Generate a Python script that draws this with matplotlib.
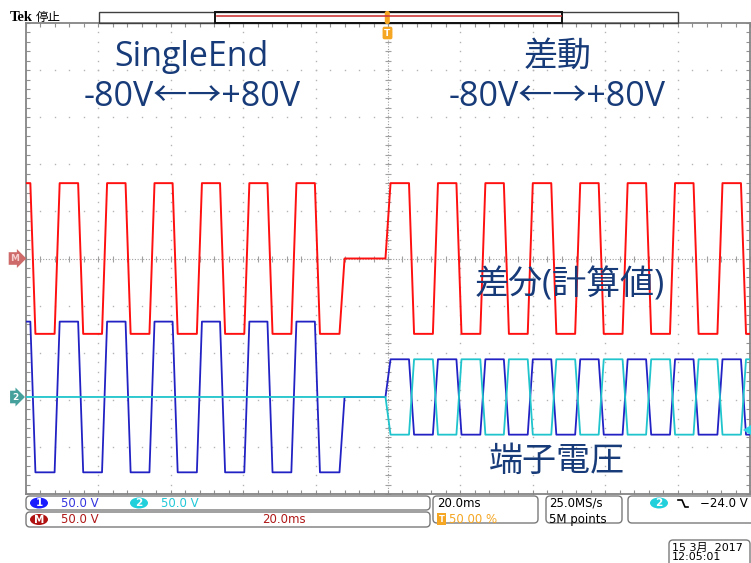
import numpy as np
import matplotlib
matplotlib.use('Agg')
import matplotlib.pyplot as plt
from matplotlib.patches import FancyBboxPatch, Rectangle, Ellipse, Polygon

# ---------------- data ----------------
time_per_div_ms = 20.0
volts_per_div = 50.0
ch_position_div = -2.94     # ch1 / ch2 ground position
math_position_div = 0.0     # math (ch1 - ch2) position

ch1_start_v = 80.0
ch1_edges_ms = [-98.1, -91.4, -84.9, -78.3, -71.8, -65.2, -58.8, -52.1, -45.7,
                -39.0, -32.6, -26.0, -19.5, -12.7,
                0.0, 6.5, 13.1, 19.6, 26.2, 32.7, 39.3, 45.8, 52.4, 58.9,
                65.5, 72.0, 78.6, 85.1, 91.7, 98.2]
ch1_levels_v = [-80, 80, -80, 80, -80, 80, -80, 80, -80, 80, -80, 80, -80, 0,
                40, -40, 40, -40, 40, -40, 40, -40, 40, -40, 40, -40, 40, -40, 40, -40]

ch2_start_v = 0.0
ch2_edges_ms = [0.0, 6.5, 13.1, 19.6, 26.2, 32.7, 39.3, 45.8, 52.4, 58.9,
                65.5, 72.0, 78.6, 85.1, 91.7, 98.2]
ch2_levels_v = [-40, 40, -40, 40, -40, 40, -40, 40, -40, 40, -40, 40, -40, 40, -40, 40]

ramp_ms = 1.4

# ---------------- helpers ----------------
def square_wave(start, edges, levels, t0=-100.0, t1=100.0, ramp=ramp_ms):
    t = [t0]
    v = [start]
    cur = start
    for e, lv in zip(edges, levels):
        t += [e - ramp / 2, e + ramp / 2]
        v += [cur, lv]
        cur = lv
    t.append(t1)
    v.append(cur)
    return np.array(t), np.array(v, dtype=float)

t1, v1 = square_wave(ch1_start_v, ch1_edges_ms, ch1_levels_v)
t2, v2 = square_wave(ch2_start_v, ch2_edges_ms, ch2_levels_v)
tm = np.unique(np.concatenate([t1, t2]))
vm = np.interp(tm, t1, v1) - np.interp(tm, t2, v2)

W, H = 751, 563
fig = plt.figure(figsize=(W / 100, H / 100), dpi=100)
fig.patch.set_facecolor('white')

# scope graticule axes
gl, gt, gr, gb = 26, 23, 750, 494
ax = fig.add_axes([gl / W, (H - gb) / H, (gr - gl) / W, (gb - gt) / H], zorder=1)
ax.set_xlim(-5 * time_per_div_ms, 5 * time_per_div_ms)
ax.set_ylim(-5, 5)
ax.set_facecolor('none')
for s in ax.spines.values():
    s.set_color('#858585')
    s.set_linewidth(1.3)
ax.set_xticks(np.arange(-100, 100.1, 20))
ax.set_xticks(np.arange(-100, 100.1, 4), minor=True)
ax.set_yticks(np.arange(-5, 5.01, 1))
ax.set_yticks(np.arange(-5, 5.01, 0.2), minor=True)
ax.tick_params(which='both', direction='in', length=3, width=0.8, color='#909090',
               top=True, right=True, labelbottom=False, labelleft=False)

dot_c = '#b4b4b4'
yy = np.arange(-5, 5.001, 0.2)
xx = np.arange(-100, 100.001, 4)
for xv in range(-80, 81, 20):
    if xv == 0:
        continue
    ax.plot(np.full_like(yy, xv), yy, ls='none', marker='s', ms=1.0, mew=0, color=dot_c)
for yv in range(-4, 5):
    if yv == 0:
        continue
    ax.plot(xx, np.full_like(xx, yv, dtype=float), ls='none', marker='s', ms=1.0, mew=0, color=dot_c)
# centre cross
ax.axvline(0, color='#a0a0a0', lw=0.8, ls=(0, (1, 1.5)))
ax.axhline(0, color='#a0a0a0', lw=0.8, ls=(0, (1, 1.5)))
ax.plot(np.zeros_like(yy), yy, ls='none', marker='_', ms=4, mew=0.8, color='#a0a0a0')
ax.plot(xx, np.zeros_like(xx), ls='none', marker='|', ms=4, mew=0.8, color='#a0a0a0')

# waveforms
ax.plot(tm, vm / volts_per_div + math_position_div, color='#ff1010', lw=1.4, zorder=5)
ax.plot(t1, v1 / volts_per_div + ch_position_div, color='#2222c4', lw=1.3, zorder=6)
ax.plot(t2, v2 / volts_per_div + ch_position_div, color='#1fc4cc', lw=1.3, zorder=7)

# ---------------- UI overlay (pixel coordinates) ----------------
ui = fig.add_axes([0, 0, 1, 1], zorder=3)
ui.set_xlim(0, W)
ui.set_ylim(H, 0)
ui.axis('off')
ui.patch.set_alpha(0)

big = dict(family=['Open Sans', 'Noto Sans CJK JP', 'DejaVu Sans'], color='#173a78',
           ha='center', va='center', fontsize=24.5)
ui.text(191, 57, 'SingleEnd', **big)
ui.text(192, 97, '-80V\u2190\u2192+80V', **big)
ui.text(558, 57, '差動', **big)
ui.text(557, 97, '-80V\u2190\u2192+80V', **big)
ui.text(570, 285, '差分(計算値)', **big)
ui.text(557, 462, '端子電圧', **big)

# top bar
ui.text(10, 21, 'Tek', family='Liberation Serif', weight='bold', fontsize=10.5, va='baseline')
ui.text(36, 21, '停止', family=['Noto Sans CJK JP'], fontsize=9, va='baseline')
ui.add_patch(Rectangle((99, 11.5), 579, 11, fill=False, ec='#404040', lw=1.0))
ui.add_patch(Rectangle((215, 11.5), 347, 11, fill=False, ec='#111111', lw=1.4))
ui.plot([217, 561], [16, 16], color='#d03a3a', lw=1.2)
ui.add_patch(FancyBboxPatch((384.8, 11), 5, 13, boxstyle='round,pad=0,rounding_size=2',
                            fc='#f5a623', ec='none'))
ui.text(387.5, 33, 'T', ha='center', va='center', color='white', fontsize=6.5, weight='bold',
        bbox=dict(boxstyle='round,pad=0.2', fc='#f5a623', ec='none'))

# left markers
ui.text(15, 258.5, 'M', ha='center', va='center', color='#f6d0d0', fontsize=6.5, weight='bold',
        bbox=dict(boxstyle='rarrow,pad=0.2', fc='#cf6a6a', ec='none'))
ui.text(15, 397, '2', ha='center', va='center', color='white', fontsize=6.5, weight='bold',
        bbox=dict(boxstyle='rarrow,pad=0.2', fc='#46a09c', ec='none'))
# trigger level arrow
ui.add_patch(Polygon([(743, 430), (751, 425), (751, 435)], closed=True, fc='#30d4e4', ec='none'))

# bottom info boxes
def box(x0, y0, x1, y1):
    ui.add_patch(FancyBboxPatch((x0, y0), x1 - x0, y1 - y0,
                                boxstyle='round,pad=0,rounding_size=4',
                                fc='white', ec='#7a7a7a', lw=1.0))

box(26, 496, 430, 510)
box(26, 512, 430, 527)
box(433, 496, 538, 523)
box(546, 496, 622, 523)
box(628, 496, 756, 523)
box(669, 540, 750, 572)

def badge(cx, cy, label, fc):
    ui.add_patch(Ellipse((cx, cy), 18, 11, fc=fc, ec='none'))
    ui.text(cx, cy + 0.5, label, ha='center', va='center', color='white', fontsize=7.5, weight='bold')

info = dict(family='DejaVu Sans', fontsize=8.5, va='center')
badge(39, 503, '1', '#1a1aff')
ui.text(61, 503.5, '50.0 V', color='#3535e0', **info)
badge(139, 503, '2', '#22d0dc')
ui.text(161, 503.5, '50.0 V', color='#22c8d8', **info)
badge(39, 519.5, 'M', '#b01212')
ui.text(61, 519.5, '50.0 V', color='#b01818', **info)
ui.text(262, 519.5, '20.0ms', color='#b01818', **info)

ui.text(437, 503.5, '20.0ms', color='black', **info)
ui.text(441.5, 519, 'T', ha='center', va='center', color='white', fontsize=6, weight='bold',
        bbox=dict(boxstyle='square,pad=0.15', fc='#f5a623', ec='none'))
ui.text(449, 519.5, '50.00 %', color='#f5a623', **info)

ui.text(549, 503.5, '25.0MS/s', color='black', **info)
ui.text(549, 519.5, '5M points', color='black', **info)

badge(659, 503, '2', '#22d0dc')
ui.plot([678, 682, 685, 688], [500, 500, 507, 507], color='black', lw=1.2)
ui.text(700, 503.5, '\u221224.0 V', color='black', **info)

ui.text(672, 547.5, '15 3月  2017', color='black', family=['DejaVu Sans', 'Noto Sans CJK JP'],
        fontsize=8, va='center')
ui.text(672, 557.5, '12:05:01', color='black', family='DejaVu Sans', fontsize=8, va='center')

fig.savefig('out.png', dpi=100, facecolor='white')
